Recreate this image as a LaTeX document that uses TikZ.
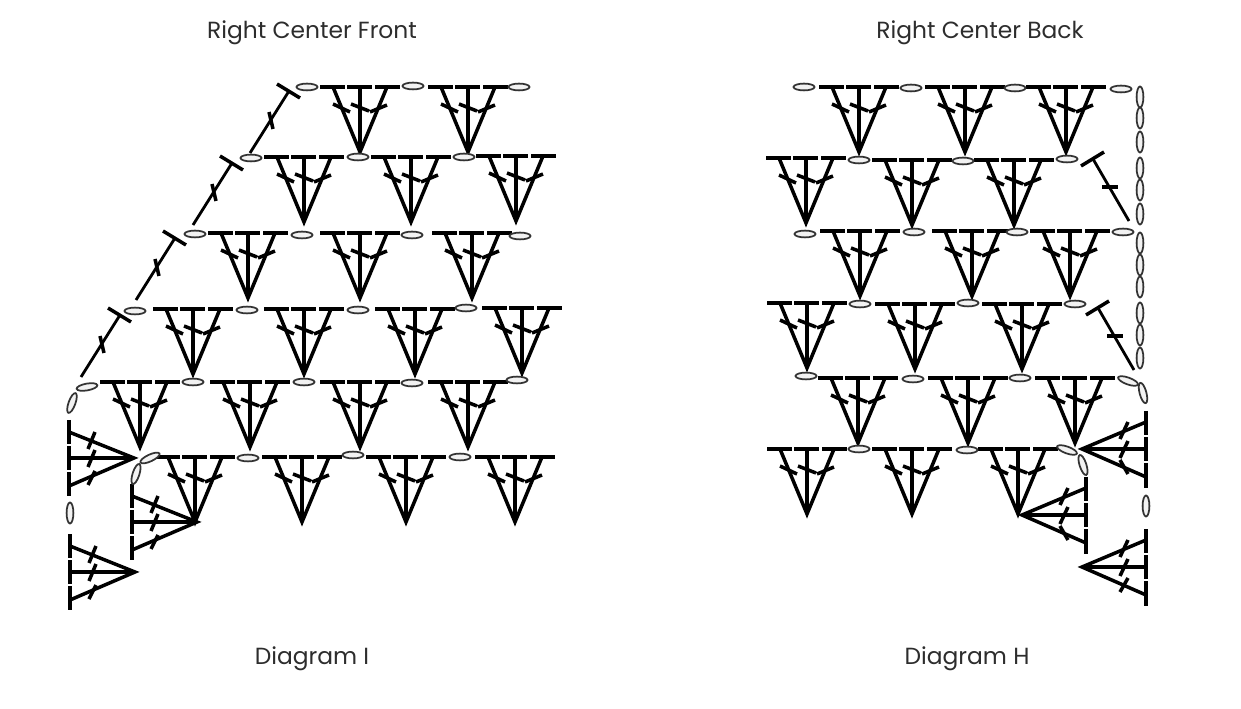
\documentclass[tikz,border=0pt]{standalone}
\usepackage{fontspec}
\setmainfont{Poppins}
\definecolor{LabelGrey}{RGB}{45,45,45}

\tikzset{
  stitchline/.style={line width=2pt, black},
  crossline/.style={line width=2pt, black},
  chainline/.style={line width=1pt, black!80, fill=black!5},
  captionlabel/.style={font=\fontsize{13.3}{16}\selectfont, color=LabelGrey},
  pics/chainst/.style={code={
    \draw[chainline] (0,0) ellipse [x radius=10.5, y radius=3.4];
  }},
  pics/shelldown/.style={code={
    \draw[stitchline, line width=2.4pt] (-40,-65) -- (-15,-65) (-13,-65) -- (12,-65) (15,-65) -- (40,-65);
    \draw[stitchline, line join=miter] (-27,-65) -- (0,0) -- (27,-65);
    \draw[stitchline] (0,0) -- (0,-65);
    \draw[crossline] (-27,-48) -- (-10,-40) (-9,-48) -- (9,-41) (10,-40) -- (27,-47);
  }},
  pics/shellleft/.style={code={
    \draw[stitchline, line width=2.4pt] (-65,-38) -- (-65,-14) (-65,-12) -- (-65,12) (-65,14) -- (-65,38);
    \draw[stitchline, line join=miter] (-65,-26) -- (0,0) -- (-65,28);
    \draw[stitchline] (0,0) -- (-65,0);
    \draw[crossline] (-46,-9) -- (-39,-26) (-46,9) -- (-39,-8) (-46,27) -- (-39,13);
  }},
  pics/shellright/.style={code={
    \draw[stitchline, line width=2.4pt] (64,-38) -- (64,-14) (64,-12) -- (64,12) (64,14) -- (64,39);
    \draw[stitchline, line join=miter] (64,-27) -- (0,0) -- (64,28);
    \draw[stitchline] (0,0) -- (64,0);
    \draw[crossline] (38,-10) -- (46,-27) (38,9) -- (46,-8) (38,#1) -- (46,{36-#1});
  }},
  pics/tallst/.style={code={
    \draw[stitchline] (-12,-7) -- (11,7);
    \draw[stitchline, line width=1.6pt] (0,0) -- (-39,62);
    \draw[crossline] (-20,21) -- (-16,38);
  }},
  pics/tallback/.style={code={
    \draw[stitchline] (-12,7) -- (11,-7);
    \draw[stitchline, line width=1.6pt] (0,0) -- (36,62);
    \draw[crossline] (9,28) -- (25,28);
  }}
}

\begin{document}
\begin{tikzpicture}[x=0.02cm, y=-0.02cm]
  \useasboundingbox (0,0) rectangle (1241,709);

  % Captions
  \node[captionlabel] (frontlabel) at (312,33) {Right Center Front};
  \node[captionlabel] (backlabel) at (980,33) {Right Center Back};
  \node[captionlabel] (diagrami) at (312,659) {Diagram I};
  \node[captionlabel] (diagramh) at (967,659) {Diagram H};

  % Front: shells row by row
  \foreach \x/\y in {360/152, 468/152,
                     304/222, 411/222, 516/221,
                     248/298, 360/298, 472/298,
                     193/374, 304/374, 415/374, 522/373,
                     140/447, 250/447, 360/447, 468/447,
                     195/522, 302/522, 406/522, 515/522}
    \pic at (\x,\y) {shelldown};

  % Front: chains between shells
  \foreach \x/\y in {307/87, 413/86, 519/87,
                     251/158, 358/157, 464/157,
                     195/234, 302/235, 412/235, 520/236,
                     135/311, 247/310, 358/310, 466/308,
                     193/382, 304/382, 412/383, 517/380,
                     248/458, 353/455, 460/457}
    \pic at (\x,\y) {chainst};

  % Front: long stitches up the slope
  \foreach \x/\y in {289/91, 232/163, 175/238, 120/315}
    \pic at (\x,\y) {tallst};

  % Front: corner
  \pic at (134,458) {shellleft};
  \pic at (197,522) {shellleft};
  \pic at (135,572) {shellleft};
  \pic[rotate=10] at (87,387) {chainst};
  \pic[rotate=70] at (72,403) {chainst};
  \pic[rotate=25] at (150,458) {chainst};
  \pic[rotate=72] at (136,474) {chainst};
  \pic[rotate=90] at (70,513) {chainst};

  % Back: shells row by row
  \foreach \x/\y in {859/152, 965/152, 1066/152,
                     806/223, 912/225, 1014/225,
                     860/296, 972/296, 1070/296,
                     807/368, 915/369, 1022/369,
                     858/443, 968/443, 1075/443,
                     807/514, 912/514, 1018/514}
    \pic at (\x,\y) {shelldown};

  % Back: chains between shells
  \foreach \x/\y in {804/87, 911/88, 1015/88, 1121/89,
                     859/160, 963/161, 1067/159,
                     805/234, 914/232, 1017/232, 1123/232,
                     860/304, 968/303, 1075/304,
                     806/376, 913/379, 1020/378,
                     859/449, 967/450}
    \pic at (\x,\y) {chainst};

  % Back: chain up the side
  \foreach \y in {97, 118, 142, 168, 190, 214, 243, 265, 287, 313, 335, 358}
    \pic[rotate=90] at (1140,\y) {chainst};

  % Back: long stitches at the edge
  \pic at (1093,159) {tallback};
  \pic at (1098,308) {tallback};

  % Back: corner
  \pic at (1082,449) {shellright=11};
  \pic at (1022,515) {shellright=11};
  \pic at (1082,567) {shellright=25};
  \pic[rotate=-20] at (1128,381) {chainst};
  \pic[rotate=-75] at (1143,393) {chainst};
  \pic[rotate=-20] at (1067,450) {chainst};
  \pic[rotate=-72] at (1083,465) {chainst};
  \pic[rotate=90] at (1146,506) {chainst};
\end{tikzpicture}
\end{document}
